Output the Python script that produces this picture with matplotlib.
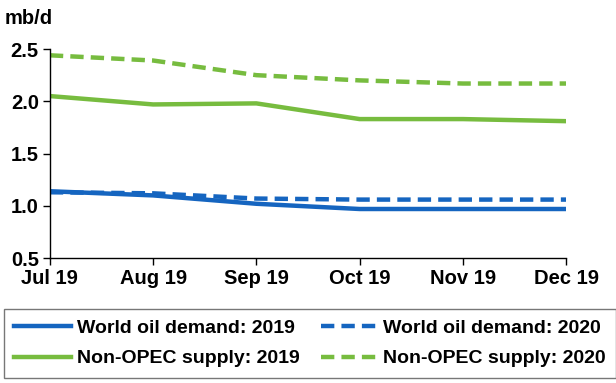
import matplotlib
matplotlib.use("Agg")
import matplotlib.pyplot as plt

months = ["Jul 19", "Aug 19", "Sep 19", "Oct 19", "Nov 19", "Dec 19"]
demand_2019 = [1.14, 1.10, 1.02, 0.97, 0.97, 0.97]
demand_2020 = [1.13, 1.12, 1.07, 1.06, 1.06, 1.06]
supply_2019 = [2.05, 1.97, 1.98, 1.83, 1.83, 1.81]
supply_2020 = [2.44, 2.39, 2.25, 2.20, 2.17, 2.17]
yticks = [0.5, 1.0, 1.5, 2.0, 2.5]

blue = "#1565c0"
green = "#77bc3f"

plt.rcParams["font.family"] = ["Liberation Sans", "DejaVu Sans"]
plt.rcParams["font.weight"] = "bold"

fig = plt.figure(figsize=(6.16, 3.83), dpi=100)
ax = fig.add_axes([0.081, 0.326, 0.838, 0.546])

x = range(len(months))
dash = (0, (3, 1.6))
l1, = ax.plot(x, demand_2019, color=blue, lw=3.2, label="World oil demand: 2019")
l2, = ax.plot(x, demand_2020, color=blue, lw=3.2, ls=dash, label="World oil demand: 2020")
l3, = ax.plot(x, supply_2019, color=green, lw=3.2, label="Non-OPEC supply: 2019")
l4, = ax.plot(x, supply_2020, color=green, lw=3.2, ls=dash, label="Non-OPEC supply: 2020")

ax.set_xlim(0, len(months) - 1)
ax.set_ylim(0.5, 2.5)
ax.set_xticks(list(x))
ax.set_xticklabels(months)
ax.set_yticks(yticks)
ax.set_yticklabels(["%.1f" % v for v in yticks])
ax.tick_params(labelsize=14.5, width=1, length=5, pad=3)
for s in ["top", "right"]:
    ax.spines[s].set_visible(False)
for s in ["left", "bottom"]:
    ax.spines[s].set_linewidth(1)

fig.text(0.008, 0.953, "mb/d", fontsize=14.5, fontweight="bold", va="center")

# row-wise order like the original: demand on top, supply below
handles = [l1, l3, l2, l4]
leg = fig.legend(handles, [h.get_label() for h in handles],
                 loc="lower left", bbox_to_anchor=(0.006, 0.013),
                 ncol=2, fontsize=14, frameon=True, fancybox=False,
                 edgecolor="#555555", handlelength=2.9, handletextpad=0.3,
                 borderaxespad=0, borderpad=0.55, labelspacing=0.65, columnspacing=1.1)
leg.get_frame().set_linewidth(1)

fig.savefig("out.png", dpi=100)
